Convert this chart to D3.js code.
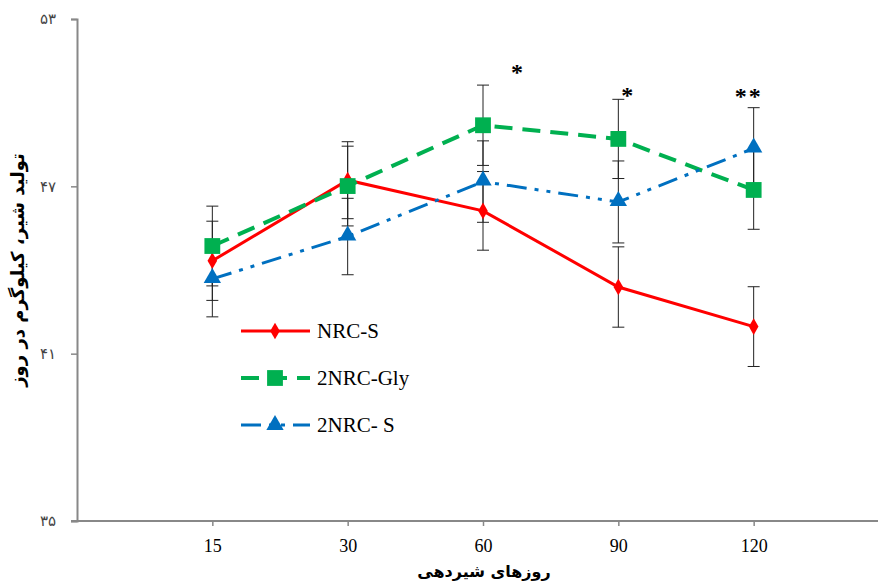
<!DOCTYPE html>
<html><head><meta charset="utf-8">
<script src="https://cdn.jsdelivr.net/npm/d3@7"></script>
<style>body{margin:0;background:#fff}svg{display:block}</style>
</head><body>
<svg id="c" width="878" height="582"></svg>
<script>
const categories = ["15","30","60","90","120"];
const nrcS     = [44.33, 47.22, 46.12, 43.39, 41.97];
const nrcSErr  = [1.42, 1.38, 1.41, 1.44, 1.43];
const gly      = [44.86, 47.01, 49.19, 48.70, 46.87];
const glyErr   = [1.43, 1.43, 1.44, 1.42, 1.41];
const nrc2S    = [43.68, 45.20, 47.17, 46.44, 48.36];
const nrc2SErr = [1.36, 1.37, 1.46, 1.47, 1.46];
const sigLabels = ["", "", "*", "*", "**"];
const sigValues = [null, null, 51.2, 50.4, 50.35];
const yTicks = [35, 41, 47, 53];
const yTickLabels = ["۳۵", "۴۱", "۴۷", "۵۳"];
const seriesNames = ["NRC-S", "2NRC-Gly", "2NRC- S"];

(function(){
const svg = d3.select("#c");
const pLeft = 77, pTop = 19, pBottom = 521, pRight = 889;
const x = d3.scalePoint().domain(categories).range([pLeft, pRight]).padding(1);
const y = d3.scaleLinear().domain([35, 53]).range([pBottom, pTop]);

const serif = "'Liberation Serif','Times New Roman',serif";

const yAxis = d3.axisLeft(y).tickValues(yTicks).tickSize(6).tickFormat((d,i)=>yTickLabels[i]);
const gy = svg.append("g").attr("transform", `translate(${pLeft},0)`).call(yAxis);
gy.select(".domain").attr("stroke", "#888").attr("stroke-width", 2);
gy.selectAll(".tick line").attr("stroke", "#888").attr("stroke-width", 1.5);
gy.selectAll(".tick text").attr("font-family", "'DejaVu Sans',sans-serif").attr("font-size", 15).attr("fill", "#444").attr("x", -21);

const xAxis = d3.axisBottom(x).tickSize(5).tickSizeOuter(0);
const gx = svg.append("g").attr("transform", `translate(0,${pBottom})`).call(xAxis);
gx.select(".domain").attr("stroke", "#888").attr("stroke-width", 2).attr("d", `M${pLeft-6},0H878`);
gx.selectAll(".tick line").attr("stroke", "#888").attr("stroke-width", 1.5);
gx.selectAll(".tick text").attr("font-family", serif).attr("font-size", 18).attr("fill", "#000").attr("dy", "1.25em");

svg.append("text").attr("x", 484).attr("y", 577).attr("text-anchor", "middle")
  .attr("font-family", "'DejaVu Sans',sans-serif").attr("font-weight", "bold").attr("font-size", 16)
  .attr("direction", "rtl").text("روزهای شیردهی");
svg.append("text").attr("transform", "translate(24,270) rotate(-90)").attr("text-anchor", "middle")
  .attr("font-family", "'DejaVu Sans',sans-serif").attr("font-weight", "bold").attr("font-size", 18)
  .attr("direction", "rtl").text("تولید شیر، کیلوگرم در روز");

const series = [
  {name: seriesNames[0], vals: nrcS, err: nrcSErr, color: "#ff0000", dash: null, width: 3, marker: "diamond"},
  {name: seriesNames[1], vals: gly, err: glyErr, color: "#00b050", dash: "18,10", width: 4, marker: "square"},
  {name: seriesNames[2], vals: nrc2S, err: nrc2SErr, color: "#0070c0", dash: "20,8,4,8,4,8", width: 3, marker: "triangle"}
];
const symbols = {
  diamond: d3.symbol().type(d3.symbolDiamond).size(80),
  square: d3.symbol().type(d3.symbolSquare).size(250),
  triangle: d3.symbol().type(d3.symbolTriangle).size(130)
};

const line = d3.line().x((d,i)=>x(categories[i])).y(d=>y(d));

series.forEach(s=>{
  svg.append("path").attr("d", line(s.vals)).attr("fill","none")
    .attr("stroke", s.color).attr("stroke-width", s.width)
    .attr("stroke-dasharray", s.dash);
});
series.forEach(s=>{
  const g = svg.append("g").attr("stroke", "#222").attr("stroke-width", 1);
  s.vals.forEach((v,i)=>{
    const cx = x(categories[i]);
    const y1 = y(v + s.err[i]), y2 = y(v - s.err[i]);
    g.append("line").attr("x1",cx).attr("x2",cx).attr("y1",y1).attr("y2",y2);
    g.append("line").attr("x1",cx-6).attr("x2",cx+6).attr("y1",y1).attr("y2",y1);
    g.append("line").attr("x1",cx-6).attr("x2",cx+6).attr("y1",y2).attr("y2",y2);
  });
});
series.forEach(s=>{
  s.vals.forEach((v,i)=>{
    svg.append("path").attr("d", symbols[s.marker]())
      .attr("transform", `translate(${x(categories[i])},${y(v) + (s.marker==="triangle"? -1:0)})`)
      .attr("fill", s.color);
  });
});

const sigOffsets = [0, 0, 35, 10, -5];
sigLabels.forEach((t,i)=>{
  if(!t) return;
  svg.append("text").attr("x", x(categories[i]) + sigOffsets[i]).attr("y", y(sigValues[i]) + 11)
    .attr("text-anchor","middle").attr("font-family", serif).attr("font-size", 24).attr("font-weight","bold")
    .attr("letter-spacing", 2).text(t);
});

const legY = [331, 378, 425];
series.forEach((s,i)=>{
  const g = svg.append("g");
  g.append("line").attr("x1",241).attr("x2",310).attr("y1",legY[i]).attr("y2",legY[i])
    .attr("stroke", s.color).attr("stroke-width", s.width).attr("stroke-dasharray", s.dash);
  g.append("path").attr("d", symbols[s.marker]()).attr("transform",`translate(275,${legY[i]})`)
    .attr("fill", s.color);
  g.append("text").attr("x", 317).attr("y", legY[i] + 7).attr("font-family", serif)
    .attr("font-size", 21).attr("fill","#000").text(s.name);
});
})();
</script>
</body></html>
